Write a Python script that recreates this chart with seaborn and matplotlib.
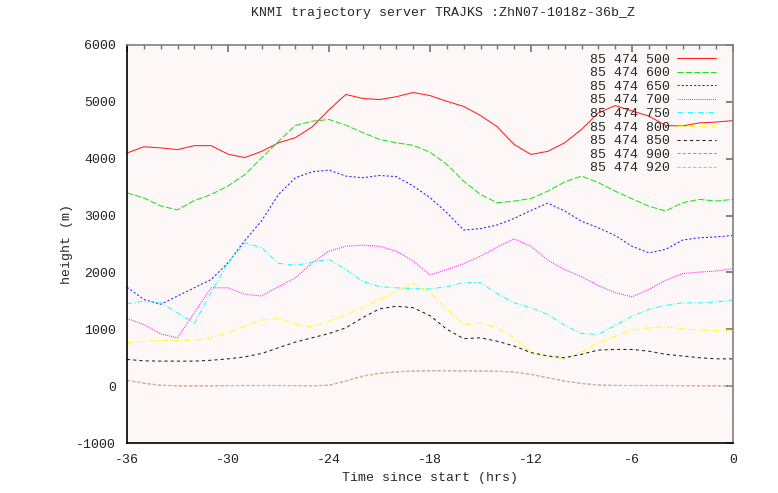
import numpy as np
import pandas as pd
import matplotlib
matplotlib.use("Agg")
import matplotlib.pyplot as plt
import seaborn as sns

# time since start (hrs), hourly trajectory points
hours = np.arange(-36, 1)

labels = ["85 474 500", "85 474 600", "85 474 650", "85 474 700", "85 474 750",
          "85 474 800", "85 474 850", "85 474 900", "85 474 920"]

h500 = [4100, 4210, 4190, 4160, 4230, 4230, 4080, 4020, 4130, 4280, 4370, 4560, 4860,
        5130, 5060, 5040, 5090, 5165, 5110, 5010, 4920, 4760, 4560, 4250, 4075, 4130,
        4280, 4515, 4805, 4935, 4840, 4750, 4585, 4575, 4630, 4645, 4670]
h600 = [3400, 3310, 3170, 3100, 3265, 3370, 3520, 3720, 4015, 4305, 4585, 4660, 4690,
        4590, 4460, 4340, 4280, 4235, 4115, 3900, 3605, 3370, 3225, 3255, 3300, 3430,
        3590, 3695, 3580, 3430, 3295, 3165, 3080, 3225, 3285, 3255, 3285]
h650 = [1740, 1525, 1440, 1585, 1730, 1875, 2170, 2560, 2910, 3370, 3665, 3770, 3800,
        3695, 3665, 3705, 3685, 3520, 3315, 3050, 2745, 2770, 2835, 2950, 3090, 3220,
        3080, 2900, 2785, 2650, 2460, 2345, 2405, 2570, 2610, 2625, 2650]
h700 = [1190, 1085, 920, 850, 1290, 1730, 1730, 1615, 1585, 1750, 1905, 2170, 2375,
        2460, 2480, 2460, 2375, 2200, 1955, 2050, 2155, 2285, 2445, 2590, 2460, 2215,
        2050, 1925, 1770, 1645, 1570, 1700, 1860, 1980, 2005, 2025, 2065]
h750 = [1450, 1495, 1465, 1290, 1105, 1650, 2170, 2520, 2435, 2160, 2125, 2180, 2230,
        2050, 1845, 1750, 1730, 1715, 1710, 1750, 1820, 1820, 1625, 1465, 1380, 1260,
        1070, 925, 910, 1070, 1230, 1350, 1420, 1465, 1465, 1480, 1515]
h800 = [765, 790, 805, 805, 810, 850, 940, 1055, 1160, 1190, 1085, 1045, 1145,
        1260, 1380, 1525, 1670, 1805, 1645, 1350, 1085, 1105, 1025, 850, 600, 515,
        470, 600, 765, 880, 985, 1025, 1045, 1010, 985, 980, 985]
h850 = [470, 445, 440, 440, 440, 455, 480, 515, 575, 675, 775, 850, 925,
        1025, 1205, 1360, 1405, 1380, 1240, 1000, 835, 850, 790, 705, 590, 530,
        500, 560, 635, 645, 645, 615, 560, 530, 500, 480, 480]
h900 = [100, 50, 15, 5, 5, 5, 10, 10, 10, 10, 10, 5, 15,
        90, 175, 225, 250, 265, 270, 270, 268, 265, 262, 246, 206, 147,
        88, 47, 18, 12, 10, 10, 10, 8, 5, 5, 5]
h920 = [105, 52, 18, 8, 6, 6, 10, 12, 12, 12, 10, 8, 18,
        92, 178, 228, 252, 266, 272, 272, 270, 266, 263, 248, 208, 150,
        90, 50, 20, 14, 12, 12, 12, 10, 8, 6, 6]

series = [h500, h600, h650, h700, h750, h800, h850, h900, h920]
colors = ["#ff2020", "#20e020", "#2020ff", "#ff20ff", "#20ffff",
          "#ffff20", "#202020", "#ff8030", "#bcbcbc"]
dashes = [(None, None), (6, 2), (2, 2), (1, 1), (5, 2, 1, 2),
          (6, 2, 1, 2), (3, 3), (3, 2), (3, 2)]

sns.set_style("white")
plt.rcParams["font.family"] = ["Liberation Mono", "DejaVu Sans Mono"]
plt.rcParams["font.size"] = 9.5
plt.rcParams["axes.unicode_minus"] = False

fig = plt.figure(figsize=(7.78, 4.93), dpi=100)
ax = fig.add_axes([127 / 778, 1 - 443 / 493, (733 - 127) / 778, (443 - 45) / 493])
ax.set_facecolor("#fdf7f7")

for lab, vals, col, ds in zip(labels, series, colors, dashes):
    df = pd.DataFrame({"t": hours, "h": vals})
    sns.lineplot(data=df, x="t", y="h", ax=ax, color=col, lw=0.75, label=lab)
    if ds[0] is not None:
        ax.lines[-1].set_dashes(ds)

ax.set_xlim(-36, 0)
ax.set_ylim(-1000, 6000)
ax.set_xticks(range(-36, 1, 6))
ax.set_xticks(range(-36, 1), minor=True)
ax.set_yticks(range(-1000, 6001, 1000))
ax.tick_params(which="both", direction="in", top=True, right=True,
               color="#707070", colors="#222222")
ax.tick_params(which="major", length=5, width=1.2)
ax.tick_params(which="minor", length=3, width=1.0)
ax.tick_params(axis="x", pad=8)
ax.tick_params(axis="y", pad=8)
for s in ["top", "right"]:
    ax.spines[s].set_color("#808080")
for s in ["left", "bottom"]:
    ax.spines[s].set_color("#000000")
for s in ax.spines.values():
    s.set_linewidth(1.2)

ax.set_xlabel("Time since start (hrs)", labelpad=4)
ax.set_ylabel("height (m)", labelpad=2)
fig.text(443 / 778, 1 - 13 / 493, "KNMI trajectory server TRAJKS :ZhN07-1018z-36b_Z",
         ha="center", va="center", fontsize=9.5)

ax.legend(loc="upper right", bbox_to_anchor=(1 - 8 / 606, 1.0), frameon=False,
          markerfirst=False, handlelength=3.0, handletextpad=0.5,
          labelspacing=0.1, borderaxespad=0.35, borderpad=0.3)

fig.savefig("out.png", dpi=100)
